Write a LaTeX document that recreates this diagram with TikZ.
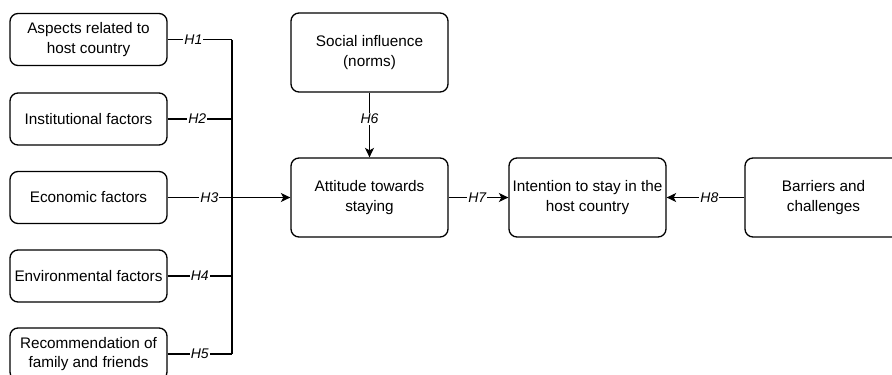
\documentclass[tikz,border=0pt]{standalone}
\usepackage{fontspec}
\setmainfont{Liberation Sans}
\usetikzlibrary{arrows.meta}
\begin{document}
\begin{tikzpicture}[x=1pt,y=-1pt,
  box/.style={draw, rounded corners=8pt, line width=1.3pt, align=center,
    minimum width=157pt, inner sep=0pt, font=\fontsize{15.3}{19.5}\selectfont},
  lbox/.style={box, minimum height=52pt},
  bbox/.style={box, minimum height=79pt},
  conn/.style={line width=1.3pt},
  arr/.style={conn, -{Stealth[length=9.5pt,width=9pt,inset=2.5pt]}},
  hlab/.style={fill=white, inner sep=1pt, font=\itshape\fontsize{14}{14}\selectfont}]
\useasboundingbox (0,0) rectangle (892,375);
% left column
\node[lbox] (a1) at (88.5,39.5) {Aspects related to\\host country};
\node[lbox] (a2) at (88.5,119) {Institutional factors};
\node[lbox] (a3) at (88.5,197.5) {Economic factors};
\node[lbox] (a4) at (88.5,276) {Environmental factors};
\node[lbox] (a5) at (88.5,354) {Recommendation of\\family and friends};
% right part
\node[bbox] (soc) at (369.5,52.5) {Social influence\\(norms)};
\node[bbox] (att) at (369.5,197.5) {Attitude towards\\staying};
\node[bbox] (int) at (587.5,197.5) {Intention to stay in the\\host country};
\node[bbox] (bar) at (823.5,197.5) {Barriers and\\challenges};
% bracket
\coordinate (j1) at (232,39.5);
\coordinate (j2) at (232,119);
\coordinate (j4) at (232,276);
\coordinate (j5) at (232,354);
\draw[conn] (j1) -- (j5);
\draw[conn] (a1.east) -- node[hlab, pos=0.4] {H1} (j1);
\draw[conn] (a2.east) -- node[hlab, pos=0.46] {H2} (j2);
\draw[conn] (a4.east) -- node[hlab, pos=0.5] {H4} (j4);
\draw[conn] (a5.east) -- node[hlab, pos=0.5] {H5} (j5);
\draw[arr] (a3.east) -- node[hlab, pos=0.34] {H3} (att.west);
\draw[arr] (soc.south) -- node[hlab, pos=0.41] {H6} (att.north);
\draw[arr] (att.east) -- node[hlab, pos=0.48] {H7} (int.west);
\draw[arr] (bar.west) -- node[hlab, pos=0.45] {H8} (int.east);
\end{tikzpicture}
\end{document}
